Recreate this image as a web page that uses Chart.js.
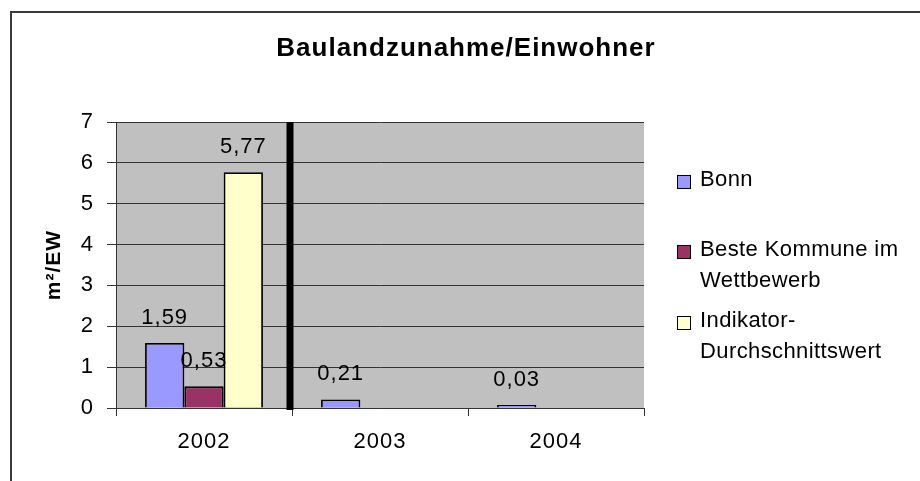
<!DOCTYPE html>
<html>
<head>
<meta charset="utf-8">
<script src="https://cdn.jsdelivr.net/npm/chart.js@4.4.1/dist/chart.umd.min.js"></script>
<style>
  html, body { margin: 0; padding: 0; background: #fff; }
  #wrap { position: relative; width: 920px; height: 481px; overflow: hidden; }
  #legend { position: absolute; left: 677px; top: 172px; font-family: "Liberation Sans", Arial, sans-serif; font-size: 22px; color: #000; letter-spacing: 0.4px; }
  .item { position: absolute; left: 0; white-space: nowrap; }
  .sw { position: absolute; left: 0; width: 12px; height: 12px; border: 1.5px solid #000; }
  .txt { position: absolute; left: 23px; line-height: 31px; }
</style>
</head>
<body>
<div id="wrap">
  <canvas id="c" width="920" height="481"></canvas>
  <div id="legend"></div>
</div>
<script>
const categories = ['2002', '2003', '2004'];
const seriesNames = ['Bonn', 'Beste Kommune im\nWettbewerb', 'Indikator-\nDurchschnittswert'];
const bonn = [1.59, 0.21, 0.03];
const besteKommune = [0.53, null, null];
const indikator = [5.77, null, null];
const colors = ['#9999FF', '#993366', '#FFFFCC'];
const titleText = 'Baulandzunahme/Einwohner';
const yTitle = 'm²/EW';
const yMin = 0, yMax = 7, yStep = 1;

const FONT = '"Liberation Sans", Arial, sans-serif';

const bgPlugin = {
  id: 'bg',
  beforeDraw(chart) {
    const ctx = chart.ctx, a = chart.chartArea;
    ctx.save();
    ctx.fillStyle = '#fff';
    ctx.fillRect(0, 0, chart.width, chart.height);
    ctx.fillStyle = '#C0C0C0';
    ctx.fillRect(a.left, a.top, a.right - a.left, a.bottom - a.top);
    ctx.strokeStyle = '#3a3a3a';
    ctx.lineWidth = 2;
    ctx.strokeRect(11, 12, chart.width + 20, chart.height + 20);
    ctx.restore();
    ctx.letterSpacing = '1px';
  }
};

const sepPlugin = {
  id: 'sep',
  afterDatasetsDraw(chart) {
    const ctx = chart.ctx, a = chart.chartArea, xs = chart.scales.x;
    const x = (xs.getPixelForValue(0) + xs.getPixelForValue(1)) / 2 - 2;
    ctx.save();
    ctx.fillStyle = '#000';
    ctx.fillRect(x - 3.5, a.top, 7, a.bottom - a.top + 2);
    ctx.restore();
  }
};

const labelPlugin = {
  id: 'dlabels',
  afterDatasetsDraw(chart) {
    const ctx = chart.ctx;
    ctx.save();
    ctx.font = '22px ' + FONT;
    ctx.fillStyle = '#000';
    ctx.textAlign = 'center';
    ctx.textBaseline = 'alphabetic';
    ctx.letterSpacing = '1px';
    chart.data.datasets.forEach((ds, i) => {
      const meta = chart.getDatasetMeta(i);
      meta.data.forEach((bar, j) => {
        const v = ds.data[j];
        if (v === null || v === undefined) return;
        ctx.fillText(v.toFixed(2).replace('.', ','), bar.x, bar.y - 19);
      });
    });
    ctx.restore();
  }
};

const titlePlugin = {
  id: 'mytitle',
  afterDraw(chart) {
    const ctx = chart.ctx;
    ctx.save();
    ctx.font = 'bold 26px ' + FONT;
    ctx.fillStyle = '#000';
    ctx.textAlign = 'center';
    ctx.textBaseline = 'alphabetic';
    ctx.letterSpacing = '1px';
    ctx.fillText(titleText, 466, 56);
    ctx.restore();
  }
};

new Chart(document.getElementById('c'), {
  type: 'bar',
  data: {
    labels: categories,
    datasets: [
      { label: 'Bonn', data: bonn, backgroundColor: colors[0], minBarLength: 3 },
      { label: 'Beste Kommune im Wettbewerb', data: besteKommune, backgroundColor: colors[1] },
      { label: 'Indikator-Durchschnittswert', data: indikator, backgroundColor: colors[2] }
    ].map(d => Object.assign(d, { borderColor: '#000', borderWidth: 1.8, categoryPercentage: 0.67, barPercentage: 1.0 }))
  },
  options: {
    responsive: false,
    animation: false,
    layout: { padding: { top: 122, right: 276, bottom: 0, left: 0 } },
    plugins: { legend: { display: false }, title: { display: false }, tooltip: { enabled: false } },
    scales: {
      x: {
        offset: true,
        grid: { display: true, drawOnChartArea: false, drawTicks: true, tickLength: 8, color: '#333', offset: true },
        border: { display: true, color: '#333', width: 1 },
        ticks: { color: '#000', font: { family: FONT, size: 22 }, padding: 13, maxRotation: 0 },
        afterFit(s) { s.height = 73; }
      },
      y: {
        min: yMin, max: yMax,
        grid: { color: '#333', lineWidth: 1, tickLength: 9, drawTicks: true },
        border: { display: true, color: '#333', width: 1 },
        ticks: { stepSize: yStep, color: '#000', font: { family: FONT, size: 22 }, padding: 13 },
        title: { display: true, text: yTitle, color: '#000', font: { family: FONT, size: 21, weight: 'bold' }, padding: { top: 42, bottom: 0 } },
        afterFit(s) { s.width = 116; }
      }
    }
  },
  plugins: [bgPlugin, sepPlugin, labelPlugin, titlePlugin]
});

// HTML legend built from series
const legend = document.getElementById('legend');
const tops = [0, 70, 141];
seriesNames.forEach((name, i) => {
  const it = document.createElement('div');
  it.className = 'item';
  it.style.top = tops[i] + 'px';
  const sw = document.createElement('div');
  sw.className = 'sw';
  sw.style.background = colors[i];
  sw.style.top = '3px';
  const tx = document.createElement('div');
  tx.className = 'txt';
  tx.style.top = '-9px';
  tx.innerHTML = name.split('\n').join('<br>');
  it.appendChild(sw); it.appendChild(tx);
  legend.appendChild(it);
});
</script>
</body>
</html>
